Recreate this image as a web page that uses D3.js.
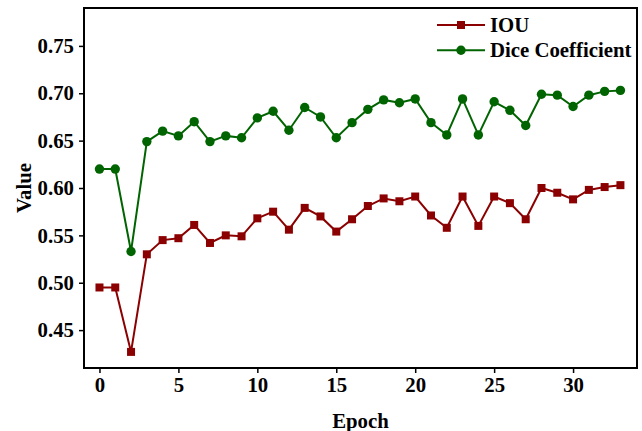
<!DOCTYPE html>
<html>
<head>
<meta charset="utf-8">
<script src="https://cdn.jsdelivr.net/npm/d3@7/dist/d3.min.js"></script>
<style>
  html, body { margin: 0; padding: 0; background: #fff; }
  svg { display: block; }
  text { font-family: "Liberation Serif", "Times New Roman", serif; font-weight: bold; }
</style>
</head>
<body>
<div id="chart"></div>
<script>
const epochs = d3.range(0, 34);
const iou = [0.495, 0.495, 0.427, 0.530, 0.545, 0.547, 0.561, 0.542, 0.550, 0.549,
             0.568, 0.575, 0.556, 0.579, 0.570, 0.554, 0.567, 0.581, 0.589, 0.586,
             0.591, 0.571, 0.558, 0.591, 0.560, 0.591, 0.584, 0.567, 0.600, 0.595,
             0.588, 0.598, 0.601, 0.603];
const dice = [0.620, 0.620, 0.533, 0.649, 0.660, 0.655, 0.670, 0.649, 0.655, 0.653,
              0.674, 0.681, 0.661, 0.685, 0.675, 0.653, 0.669, 0.683, 0.693, 0.690,
              0.694, 0.669, 0.656, 0.694, 0.656, 0.691, 0.682, 0.666, 0.699, 0.698,
              0.686, 0.698, 0.702, 0.703];
const xTicks = [0, 5, 10, 15, 20, 25, 30];
const yTicks = [0.45, 0.50, 0.55, 0.60, 0.65, 0.70, 0.75];
const seriesNames = ["IOU", "Dice Coefficient"];

const W = 642, H = 431;
const L = 84, R = 637, T = 8, B = 368;

const svg = d3.select("#chart").append("svg").attr("width", W).attr("height", H);

const x = d3.scaleLinear().domain([-0.98, 34.05]).range([L, R]);
const y = d3.scaleLinear().domain([0.41, 0.79]).range([B, T]);

const fs = 20.8;

// axes
const xAxis = svg.append("g").attr("transform", `translate(0,${B})`)
  .call(d3.axisBottom(x).tickValues(xTicks).tickFormat(d3.format("d")).tickSize(5).tickPadding(4));
const yAxis = svg.append("g").attr("transform", `translate(${L},0)`)
  .call(d3.axisLeft(y).tickValues(yTicks).tickFormat(d3.format(".2f")).tickSize(5).tickPadding(5));
[xAxis, yAxis].forEach(a => {
  a.select(".domain").remove();
  a.selectAll(".tick line").attr("stroke", "#000").attr("stroke-width", 1.5);
  a.selectAll(".tick text").attr("fill", "#000").style("font-size", fs + "px");
});

// frame
svg.append("rect").attr("x", L).attr("y", T).attr("width", R - L).attr("height", B - T)
  .attr("fill", "none").attr("stroke", "#000").attr("stroke-width", 2);

const series = [
  { name: seriesNames[0], values: iou, color: "#8b0000", marker: "square" },
  { name: seriesNames[1], values: dice, color: "#006400", marker: "circle" }
];

const line = d3.line().x((d, i) => x(epochs[i])).y(d => y(d));

series.forEach(s => {
  const g = svg.append("g");
  g.append("path").datum(s.values).attr("d", line)
    .attr("fill", "none").attr("stroke", s.color).attr("stroke-width", 2);
  if (s.marker === "square") {
    g.selectAll("rect").data(s.values).join("rect")
      .attr("x", (d, i) => x(epochs[i]) - 4).attr("y", d => y(d) - 4)
      .attr("width", 8).attr("height", 8).attr("fill", s.color);
  } else {
    g.selectAll("circle").data(s.values).join("circle")
      .attr("cx", (d, i) => x(epochs[i])).attr("cy", d => y(d))
      .attr("r", 4.7).attr("fill", s.color);
  }
});

// legend
const lg = svg.append("g");
series.forEach((s, i) => {
  const cy = 25 + i * 25.3;
  lg.append("line").attr("x1", 437).attr("x2", 485).attr("y1", cy).attr("y2", cy)
    .attr("stroke", s.color).attr("stroke-width", 2);
  if (s.marker === "square") {
    lg.append("rect").attr("x", 461 - 4).attr("y", cy - 4).attr("width", 8).attr("height", 8).attr("fill", s.color);
  } else {
    lg.append("circle").attr("cx", 461).attr("cy", cy).attr("r", 4.7).attr("fill", s.color);
  }
  lg.append("text").attr("x", 490).attr("y", cy + 7).style("font-size", fs + "px")
    .attr("fill", "#000").text(s.name);
});

// axis labels
svg.append("text").attr("x", (L + R) / 2).attr("y", 428).attr("text-anchor", "middle")
  .style("font-size", fs + "px").text("Epoch");
svg.append("text").attr("transform", `translate(31,${(T + B) / 2}) rotate(-90)`)
  .attr("text-anchor", "middle").style("font-size", fs + "px").text("Value");
</script>
</body>
</html>
